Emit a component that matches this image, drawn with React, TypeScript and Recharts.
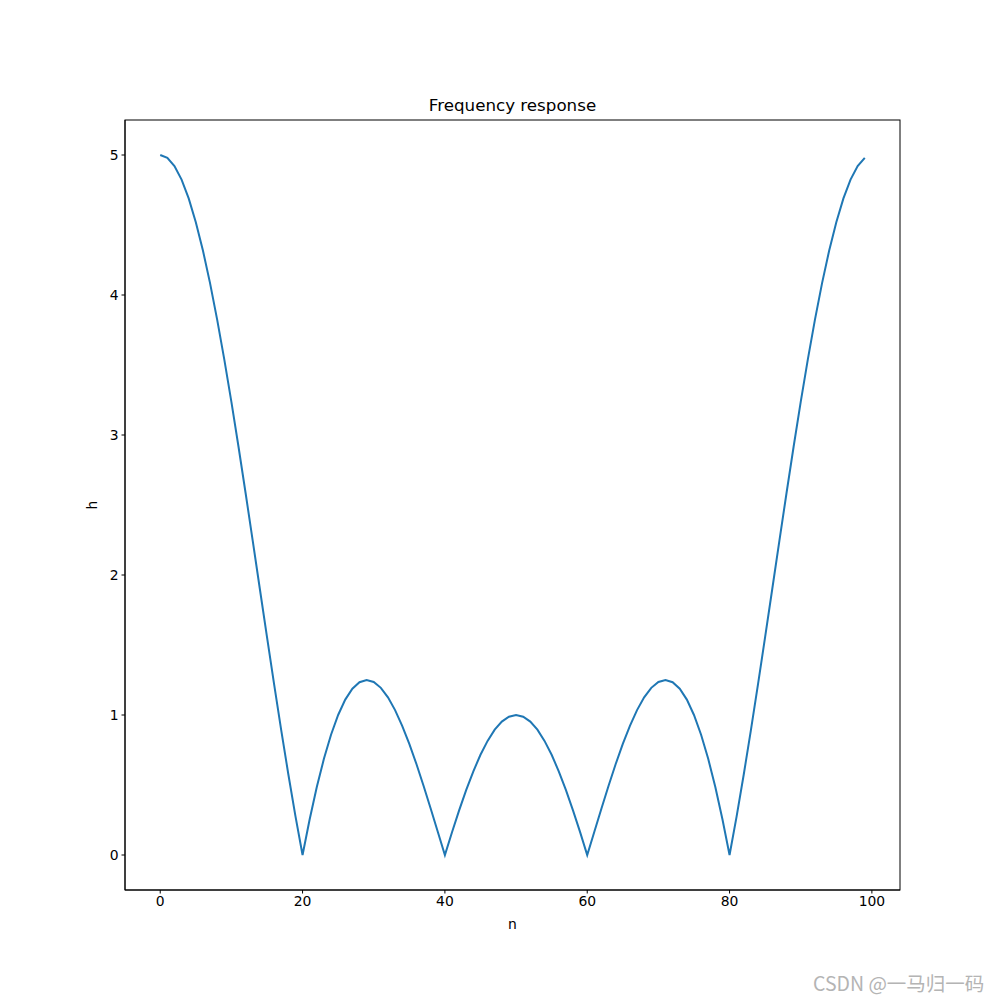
import { LineChart, Line, XAxis, YAxis, Label } from "recharts";

// |H(k)|, k = 0..99
const magnitude: number[] = [
  5.0, 4.98, 4.921, 4.824, 4.69, 4.52, 4.318, 4.085, 3.824, 3.54,
  3.236, 2.916, 2.584, 2.244, 1.9, 1.558, 1.22, 0.892, 0.577, 0.278,
  0.0, 0.255, 0.485, 0.687, 0.859, 1.0, 1.11, 1.188, 1.234, 1.25,
  1.236, 1.194, 1.126, 1.035, 0.923, 0.794, 0.65, 0.495, 0.332, 0.166,
  0.0, 0.163, 0.319, 0.465, 0.598, 0.716, 0.815, 0.895, 0.953, 0.988,
  1.0, 0.988, 0.953, 0.895, 0.815, 0.716, 0.598, 0.465, 0.319, 0.163,
  0.0, 0.166, 0.332, 0.495, 0.65, 0.794, 0.923, 1.035, 1.126, 1.194,
  1.236, 1.25, 1.234, 1.188, 1.11, 1.0, 0.859, 0.687, 0.485, 0.255,
  0.0, 0.278, 0.577, 0.892, 1.22, 1.558, 1.9, 2.244, 2.584, 2.916,
  3.236, 3.54, 3.824, 4.085, 4.318, 4.52, 4.69, 4.824, 4.921, 4.98,
];

const xTicks = [0, 20, 40, 60, 80, 100];
const yTicks = [0, 1, 2, 3, 4, 5];

const data = magnitude.map((h, n) => ({ n, h }));

const font = "DejaVu Sans, sans-serif";
const tickStyle = { fontSize: 13.9, fill: "#000", fontFamily: font };

export default function App() {
  return (
    <div
      style={{
        position: "absolute",
        left: 0,
        top: 0,
        width: 1000,
        height: 1000,
        background: "#fff",
      }}
    >
      <div
        style={{
          position: "absolute",
          left: 125,
          width: 775,
          top: 95,
          textAlign: "center",
          fontFamily: font,
          fontSize: 16.7,
          color: "#000",
        }}
      >
        Frequency response
      </div>
      <LineChart
        width={1000}
        height={1000}
        data={data}
        margin={{ top: 120, right: 100, bottom: 70, left: 65 }}
      >
        <XAxis
          dataKey="n"
          type="number"
          domain={[-4.95, 103.95]}
          ticks={xTicks}
          allowDataOverflow
          height={40}
          tickSize={3.5}
          tickMargin={3}
          stroke="#000"
          tick={tickStyle}
          tickLine={{ stroke: "#000" }}
          axisLine={{ stroke: "#000", strokeWidth: 1 }}
        >
          <Label
            value="n"
            position="insideBottom"
            offset={1}
            style={{ fontSize: 13.9, fill: "#000", fontFamily: font }}
          />
        </XAxis>
        <YAxis
          type="number"
          domain={[-0.25, 5.25]}
          ticks={yTicks}
          allowDataOverflow
          width={60}
          tickSize={3.5}
          tickMargin={3}
          stroke="#000"
          tick={tickStyle}
          tickLine={{ stroke: "#000" }}
          axisLine={{ stroke: "#000", strokeWidth: 1 }}
        >
          <Label
            value="h"
            angle={-90}
            position="insideLeft"
            offset={27}
            style={{ fontSize: 13.9, fill: "#000", fontFamily: font, textAnchor: "middle" }}
          />
        </YAxis>
        <Line
          dataKey="h"
          type="linear"
          stroke="#1f77b4"
          strokeWidth={2}
          dot={false}
          isAnimationActive={false}
        />
      </LineChart>
      {/* axes frame (top and right spines) */}
      <svg
        width={1000}
        height={1000}
        style={{ position: "absolute", left: 0, top: 0, pointerEvents: "none" }}
      >
        <rect x={125} y={120} width={775} height={770} fill="none" stroke="#000" strokeWidth={1} />
      </svg>
      <div
        style={{
          position: "absolute",
          left: 813,
          top: 968,
          fontFamily: "Noto Sans CJK SC, sans-serif",
          fontSize: 19.5,
          color: "#b4b4b4",
          whiteSpace: "nowrap",
        }}
      >
        CSDN @一马归一码
      </div>
    </div>
  );
}
